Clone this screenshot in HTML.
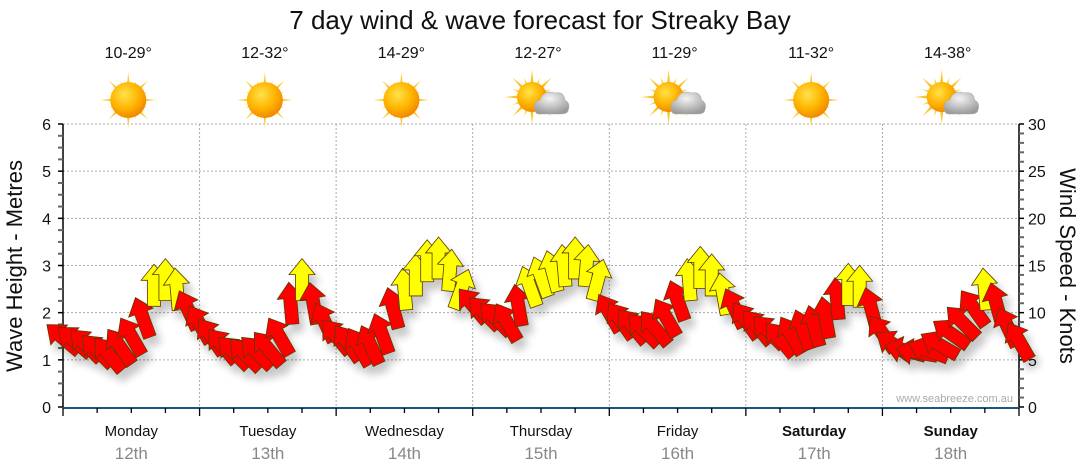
<!DOCTYPE html>
<html><head><meta charset="utf-8"><style>
body{margin:0;background:#fff;}
svg{display:block;font-family:"Liberation Sans","DejaVu Sans",sans-serif;}
</style></head><body>
<svg id="chart" width="1080" height="475" viewBox="0 0 1080 475">
<defs>
<filter id="sh" x="-50%" y="-50%" width="200%" height="200%"><feGaussianBlur in="SourceAlpha" stdDeviation="4"/><feOffset dx="5" dy="8"/><feComponentTransfer><feFuncA type="linear" slope="0.22"/></feComponentTransfer><feMerge><feMergeNode/><feMergeNode in="SourceGraphic"/></feMerge></filter>
<radialGradient id="sun" cx="40%" cy="35%" r="65%"><stop offset="0" stop-color="#ffe24a"/><stop offset="0.6" stop-color="#ffb400"/><stop offset="1" stop-color="#f08a00"/></radialGradient>
<linearGradient id="ray" x1="0" y1="0" x2="0" y2="1"><stop offset="0" stop-color="#ffd84a"/><stop offset="1" stop-color="#f0a000"/></linearGradient>
<radialGradient id="cloud" cx="45%" cy="30%" r="70%"><stop offset="0" stop-color="#f4f4f4"/><stop offset="1" stop-color="#9a9a9a"/></radialGradient>
</defs>
<text x="540" y="29" text-anchor="middle" font-size="26" fill="#111">7 day wind &amp; wave forecast for Streaky Bay</text>
<g id="grid"></g><g id="axes"></g><g id="icons"></g><g id="arrows" filter="url(#sh)"></g>
<text x="1013" y="402" text-anchor="end" font-size="11" fill="#aaa">www.seabreeze.com.au</text>
<text transform="translate(22,266) rotate(-90)" text-anchor="middle" font-size="22" fill="#111">Wave Height - Metres</text>
<text transform="translate(1060,266) rotate(90)" text-anchor="middle" font-size="22" fill="#111">Wind Speed - Knots</text>
</svg>
<script>
const days=["Monday","Tuesday","Wednesday","Thursday","Friday","Saturday","Sunday"];
const dates=["12th","13th","14th","15th","16th","17th","18th"];
const boldDays=[false,false,false,false,false,true,true];
const temps=["10-29°","12-32°","14-29°","12-27°","11-29°","11-32°","14-38°"];
const cloudy=[false,false,false,true,true,false,true];
const leftTicks=[0,1,2,3,4,5,6];
const rightTicks=[0,5,10,15,20,25,30];
// wind speed (knots), 2-hourly from Monday 00:00
const windSpeed=[7.3,7.0,6.6,6.0,5.6,6.4,7.5,9.5,12.9,13.5,12.5,10.3,
8.8,7.5,6.5,5.8,5.6,5.8,6.2,7.5,11.0,13.5,11.0,9.0,
7.5,6.8,6.4,6.6,7.8,10.5,12.5,14.0,15.5,15.8,14.5,12.5,
10.8,10.0,9.4,9.0,10.8,12.8,13.8,14.4,15.0,15.8,15.0,13.5,
10.0,9.2,8.6,8.2,8.4,9.5,11.3,13.5,14.8,14.0,12.0,10.5,
9.2,8.5,8.0,7.2,7.6,8.2,8.6,9.5,11.5,13.0,12.8,10.5,
7.8,6.6,6.0,5.8,6.0,6.6,7.8,9.0,10.5,12.5,11.0,8.5,7.0];
// arrow rotation in degrees (0 = pointing up, negative = left)
const windDir=[-50,-50,-45,-45,-40,-35,-30,-20,0,0,-5,-25,
-30,-35,-40,-45,-45,-45,-40,-30,-5,0,-10,-25,
-40,-35,-30,-25,-20,-15,-5,0,0,0,5,20,
-40,-45,-45,-30,-10,-20,-20,-15,-5,0,5,15,
-30,-35,-40,-45,-40,-30,-20,-5,0,0,-10,-25,
-35,-40,-45,-40,-30,-20,-15,-10,-5,0,0,-15,
-35,-55,-75,-80,-70,-60,-55,-45,-35,-5,-15,-25,-30];
const yellowFrom=12;
const stepsPerDay=12;
const NS="http://www.w3.org/2000/svg";
const L=63,R=1019,T=124,B=407;
const dayW=(R-L)/7;
const xT=i=>L+i*dayW/stepsPerDay;
const yM=m=>B-(B-T)*m/6;
const yK=k=>B-(B-T)*k/30;
function mk(tag,attrs,parent){const e=document.createElementNS(NS,tag);for(const k in attrs)e.setAttribute(k,attrs[k]);parent.appendChild(e);return e;}
const grid=document.getElementById('grid'),axes=document.getElementById('axes'),icons=document.getElementById('icons'),arrows=document.getElementById('arrows');
leftTicks.forEach(v=>{if(v>0){const l=mk('line',{x1:L,x2:R,y1:yM(v),y2:yM(v),stroke:'#aaa','stroke-dasharray':'2,2'},grid);}});
for(let d=1;d<7;d++){const l=mk('line',{x1:L+d*dayW,x2:L+d*dayW,y1:T,y2:B,stroke:'#aaa','stroke-dasharray':'2,2'},grid);}
const la=mk('line',{x1:L,x2:L,y1:T,y2:B,stroke:'#000','stroke-width':1.5},axes);
for(let i=0;i<=24;i++){const y=yM(i/4);mk('line',{x1:L-5,x2:L,y1:y,y2:y,stroke:i%4?'#666':'#000','stroke-width':i%4?2:1.5},axes);}
leftTicks.forEach(v=>{const t=mk('text',{x:L-12,y:yM(v)+6,'text-anchor':'end','font-size':16,fill:'#111'},axes);t.textContent=v;});
const ra=mk('line',{x1:R,x2:R,y1:T,y2:B,stroke:'#000','stroke-width':1.5},axes);
for(let i=0;i<=30;i++){const y=yK(i);mk('line',{x1:R,x2:R+5,y1:y,y2:y,stroke:i%5?'#666':'#000','stroke-width':i%5?2:1.5},axes);}
rightTicks.forEach(v=>{const t=mk('text',{x:R+9,y:yK(v)+6,'font-size':16,fill:'#111'},axes);t.textContent=v;});
const ba=mk('line',{x1:L,x2:R,y1:B+1,y2:B+1,stroke:'#1d557f','stroke-width':2},axes);
for(let i=0;i<=28;i++){const x=L+i*dayW/4;mk('line',{x1:x,x2:x,y1:B+1,y2:B+(i%4?6:9),stroke:'#000','stroke-width':1.3},axes);}
days.forEach((d,i)=>{const cx=L+(i+0.5)*dayW;
const t=mk('text',{x:cx,y:436,'text-anchor':'middle','font-size':15,fill:'#111','font-weight':boldDays[i]?'bold':'normal'},axes);t.textContent=d;
const t2=mk('text',{x:cx,y:459,'text-anchor':'middle','font-size':17,fill:'#888'},axes);t2.textContent=dates[i];
const t3=mk('text',{x:cx-3,y:58,'text-anchor':'middle','font-size':16,fill:'#111'},icons);t3.textContent=temps[i];
const g=mk('g',{transform:`translate(${cx-3},100)`},icons);
const sx=cloudy[i]?-6:0,sy=cloudy[i]?-3:0;
for(let a=0;a<16;a++){const len=a%2?21:28;mk('polygon',{points:`${sx-3},${sy} ${sx+3},${sy} ${sx},${sy-len}`,fill:'url(#ray)',transform:`rotate(${a*22.5} ${sx} ${sy})`},g);}
mk('circle',{cx:sx,cy:sy,r:cloudy[i]?15:18,fill:'url(#sun)'},g);
if(cloudy[i]){mk('path',{d:'M-2,13 Q-7,2 2,0 Q6,-11 17,-7 Q26,-9 27,0 Q33,3 30,11 Q29,14 23,14 L2,14 Q-1,14 -2,13 Z',fill:'url(#cloud)',stroke:'#aaa','stroke-width':0.5},g);}
});
const arrowPts="0,-21 13,-5 6.5,-5 6.5,21 -6.5,21 -6.5,-5 -13,-5";
windSpeed.forEach((k,i)=>{const p=mk('polygon',{points:arrowPts,fill:k>=yellowFrom?'#ffff00':'#ff0000',stroke:'#5a3a00','stroke-width':0.8,transform:`translate(${xT(i)},${yK(k)}) rotate(${windDir[i]})`},arrows);

});
</script>
</body></html>
